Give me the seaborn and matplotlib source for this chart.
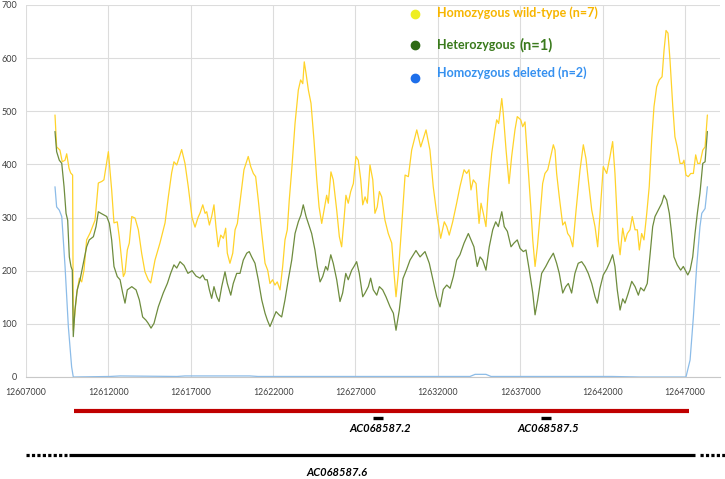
import numpy as np
import pandas as pd
import matplotlib
matplotlib.use("Agg")
import matplotlib.pyplot as plt
import matplotlib.transforms as mtransforms
import seaborn as sns

# ---------------- data ----------------
groups = ["Homozygous wild-type (n=7)", "Heterozygous (n=1)", "Homozygous deleted (n=2)"]

wt_pos = [12608760, 12608860, 12609060, 12609200, 12609370, 12609470, 12609610, 12609710, 12609830, 12609870,
          12610080, 12610240, 12610380, 12610520, 12610680, 12610890, 12611190, 12611390, 12611600, 12611730,
          12612000, 12612200, 12612340, 12612540, 12612660, 12612910, 12613010, 12613150, 12613270, 12613420,
          12613620, 12613820, 12614020, 12614220, 12614420, 12614570, 12614830, 12615130, 12615440, 12615640,
          12615840, 12615980, 12616150, 12616450, 12616650, 12616850, 12617080, 12617260, 12617440, 12617560,
          12617730, 12617870, 12617970, 12618130, 12618270, 12618410, 12618530, 12618670, 12618820, 12618980,
          12619120, 12619220, 12619380, 12619550, 12619690, 12619830, 12620030, 12620230, 12620490, 12620640,
          12620800, 12620940, 12621100, 12621310, 12621510, 12621670, 12621810, 12621970, 12622110, 12622250,
          12622420, 12622580, 12622720, 12622860, 12622980, 12623130, 12623330, 12623530, 12623670, 12623800,
          12623890, 12624000, 12624140, 12624300, 12624480, 12624650, 12624790, 12624950, 12625090, 12625250,
          12625350, 12625510, 12625650, 12625860, 12626020, 12626160, 12626300, 12626420, 12626560, 12626710,
          12626870, 12627030, 12627170, 12627320, 12627440, 12627580, 12627720, 12627880, 12628050, 12628180,
          12628320, 12628450, 12628590, 12628790, 12628990, 12629200, 12629340, 12629460, 12629600, 12629800,
          12630010, 12630210, 12630410, 12630720, 12630960, 12631280, 12631520, 12631720, 12631930, 12632170,
          12632390, 12632540, 12632690, 12632900, 12633140, 12633340, 12633590, 12633750, 12633890, 12634010,
          12634150, 12634320, 12634500, 12634620, 12634760, 12634920, 12635060, 12635270, 12635470, 12635570,
          12635690, 12635880, 12635970, 12636140, 12636320, 12636480, 12636680, 12636820, 12637030, 12637150,
          12637290, 12637430, 12637640, 12637760, 12637900, 12638040, 12638200, 12638360, 12638500, 12638670,
          12638850, 12639010, 12639110, 12639210, 12639370, 12639580, 12639720, 12639880, 12640020, 12640190,
          12640390, 12640630, 12640830, 12640990, 12641130, 12641340, 12641540, 12641700, 12641840, 12642040,
          12642250, 12642450, 12642610, 12642750, 12642950, 12643060, 12643220, 12643360, 12643500, 12643660,
          12643800, 12643970, 12644110, 12644230, 12644370, 12644510, 12644680, 12644830, 12644980, 12645120,
          12645280, 12645440, 12645610, 12645730, 12645850, 12645970, 12646090, 12646260, 12646390, 12646530,
          12646700, 12646860, 12646940, 12647060, 12647200, 12647350, 12647510, 12647650, 12647770, 12647910,
          12648080, 12648220, 12648360]
wt_cov = [493, 433, 427, 405, 408, 420, 393, 384, 380, 88,
          158, 186, 179, 201, 258, 271, 295, 365, 368, 371,
          424, 352, 290, 292, 264, 189, 196, 239, 252, 302,
          299, 277, 233, 198, 183, 177, 220, 252, 290, 339,
          384, 405, 399, 428, 402, 358, 300, 282, 300, 308,
          324, 308, 311, 286, 302, 324, 283, 245, 267, 261,
          280, 233, 214, 233, 277, 289, 339, 390, 415, 396,
          383, 377, 333, 270, 214, 201, 176, 183, 173, 179,
          164, 208, 258, 277, 333, 390, 477, 540, 559, 552,
          593, 571, 540, 515, 446, 371, 320, 289, 314, 342,
          327, 386, 371, 314, 264, 245, 295, 342, 327, 349,
          364, 415, 408, 371, 324, 339, 327, 399, 371, 308,
          320, 349, 339, 295, 270, 252, 195, 151, 195, 283,
          380, 377, 427, 465, 433, 465, 427, 358, 308, 261,
          292, 283, 267, 292, 327, 358, 390, 383, 390, 352,
          371, 364, 289, 327, 308, 283, 352, 421, 465, 484,
          477, 524, 496, 427, 364, 415, 465, 490, 484, 471,
          480, 415, 320, 258, 208, 245, 302, 364, 383, 390,
          415, 437, 427, 383, 339, 286, 292, 270, 264, 245,
          314, 390, 437, 411, 371, 314, 283, 245, 305, 396,
          383, 415, 443, 383, 258, 230, 280, 255, 270, 277,
          302, 277, 277, 239, 270, 258, 308, 358, 446, 509,
          546, 559, 565, 615, 652, 647, 597, 509, 452, 433,
          402, 402, 408, 380, 377, 383, 383, 418, 402, 402,
          427, 433, 493]

het_pos = [12608760, 12608860, 12609020, 12609170, 12609310, 12609430, 12609530, 12609630, 12609730, 12609810,
           12609870, 12609970, 12610110, 12610280, 12610480, 12610680, 12610840, 12611090, 12611250, 12611390,
           12611550, 12611730, 12611900, 12612060, 12612200, 12612340, 12612540, 12612710, 12612870, 12613010,
           12613150, 12613420, 12613680, 12613880, 12614080, 12614280, 12614420, 12614590, 12614770, 12615030,
           12615330, 12615580, 12615780, 12615980, 12616150, 12616350, 12616590, 12616830, 12617080, 12617320,
           12617560, 12617730, 12617870, 12618000, 12618130, 12618270, 12618410, 12618580, 12618720, 12618880,
           12619080, 12619220, 12619430, 12619580, 12619790, 12619990, 12620190, 12620400, 12620550, 12620700,
           12620900, 12621100, 12621310, 12621510, 12621650, 12621810, 12621970, 12622180, 12622360, 12622520,
           12622720, 12622920, 12623130, 12623330, 12623530, 12623690, 12623830, 12624000, 12624140, 12624340,
           12624540, 12624680, 12624850, 12625010, 12625190, 12625310, 12625500, 12625650, 12625860, 12626060,
           12626220, 12626410, 12626560, 12626770, 12626910, 12627070, 12627230, 12627440, 12627580, 12627780,
           12627920, 12628080, 12628290, 12628450, 12628650, 12628850, 12629100, 12629300, 12629460, 12629660,
           12629880, 12630110, 12630310, 12630670, 12630920, 12631220, 12631480, 12631720, 12631930, 12632130,
           12632330, 12632540, 12632740, 12632940, 12633140, 12633340, 12633590, 12633850, 12634010, 12634190,
           12634390, 12634560, 12634720, 12634920, 12635120, 12635330, 12635510, 12635670, 12635880, 12636030,
           12636220, 12636440, 12636620, 12636820, 12636990, 12637190, 12637350, 12637550, 12637760, 12637900,
           12638060, 12638300, 12638550, 12638750, 12639010, 12639210, 12639370, 12639580, 12639760, 12639920,
           12640120, 12640320, 12640520, 12640730, 12640930, 12641130, 12641340, 12641540, 12641680, 12641840,
           12642040, 12642250, 12642450, 12642610, 12642750, 12642890, 12643060, 12643220, 12643360, 12643560,
           12643770, 12643970, 12644170, 12644310, 12644510, 12644710, 12644880, 12645040, 12645180, 12645380,
           12645590, 12645730, 12645890, 12646050, 12646190, 12646330, 12646530, 12646740, 12646900, 12647020,
           12647170, 12647310, 12647470, 12647610, 12647750, 12647910, 12648080, 12648220, 12648360]
het_cov = [462, 424, 408, 402, 358, 308, 295, 226, 208, 201,
           76, 126, 164, 183, 214, 245, 258, 264, 283, 311,
           308, 305, 302, 289, 258, 208, 189, 183, 158, 139,
           164, 170, 164, 145, 113, 107, 101, 92, 101, 132,
           158, 176, 195, 211, 205, 217, 210, 195, 200, 190,
           186, 192, 183, 183, 164, 148, 170, 151, 142, 170,
           198, 176, 154, 176, 195, 195, 220, 233, 236, 226,
           214, 183, 145, 120, 107, 95, 107, 123, 117, 113,
           145, 183, 220, 270, 292, 305, 324, 302, 289, 270,
           239, 208, 179, 189, 208, 201, 230, 214, 183, 142,
           158, 195, 183, 201, 208, 217, 195, 151, 158, 170,
           186, 164, 154, 170, 164, 151, 132, 120, 88, 126,
           185, 203, 220, 238, 226, 236, 214, 180, 151, 132,
           165, 173, 167, 189, 220, 230, 252, 270, 258, 245,
           208, 226, 220, 201, 245, 277, 292, 283, 311, 283,
           274, 245, 252, 258, 242, 236, 239, 201, 158, 117,
           145, 195, 208, 220, 233, 214, 195, 158, 170, 176,
           158, 195, 214, 217, 208, 195, 176, 151, 139, 167,
           192, 203, 217, 230, 208, 164, 126, 147, 139, 158,
           180, 170, 154, 168, 162, 176, 230, 283, 302, 314,
           327, 342, 333, 308, 270, 226, 211, 201, 208, 201,
           192, 201, 226, 270, 308, 346, 402, 405, 462]

del_pos = [12608760, 12608860, 12609020, 12609170, 12609370, 12609570, 12609770, 12609870,
           12612100, 12612710, 12616170, 12616650, 12617080, 12620600, 12621080, 12623630,
           12633950, 12634260, 12634920, 12635230, 12642150, 12642570, 12644270,
           12647060, 12647310, 12647510, 12647710, 12647910, 12648020, 12648220, 12648360]
del_cov = [358, 320, 314, 302, 208, 95, 19, 0,
           1, 2, 1, 2, 2, 2, 1, 1,
           1, 5, 5, 1, 1, 1, 0,
           0, 32, 113, 208, 283, 308, 317, 358]

x_ticks = list(range(12607000, 12647001, 5000))
y_ticks = list(range(0, 701, 100))

# gene track annotations (genomic coordinates)
region_span = [12609900, 12647250]
small_genes = ["AC068587.2", "AC068587.5"]
small_gene_pos = [12628370, 12638570]
small_gene_half = 300
long_gene = "AC068587.6"
long_gene_span = [12609610, 12647620]
long_gene_left_dots = [12607000, 12609490]
long_gene_right_dots = [12647910, 12649430]
long_gene_label_pos = 12625880

# ---------------- styling ----------------
line_colors = ["#FFD32A", "#6E8C3E", "#8CBCE8"]
dot_colors = ["#EEEE22", "#2E6B14", "#1E6FEA"]
text_colors = ["#F7B500", "#3A7A1C", "#3590F0"]

sns.set_style("white")
plt.rcParams["font.family"] = ["Lato", "DejaVu Sans"]

fig = plt.figure(figsize=(7.25, 4.79), dpi=100)
ax = fig.add_axes([26 / 725, 102 / 479, 694 / 725, 372 / 479])

df = pd.concat([
    pd.DataFrame({"pos": wt_pos, "cov": wt_cov, "group": groups[0]}),
    pd.DataFrame({"pos": het_pos, "cov": het_cov, "group": groups[1]}),
    pd.DataFrame({"pos": del_pos, "cov": del_cov, "group": groups[2]}),
], ignore_index=True)

sns.lineplot(data=df, x="pos", y="cov", hue="group", hue_order=groups,
             palette=dict(zip(groups, line_colors)), estimator=None, sort=False,
             legend=False, linewidth=0.9, ax=ax)

ax.set_xlim(12607000, 12649126)
ax.set_ylim(0, 700)
ax.set_xticks(x_ticks)
ax.set_xticklabels([str(t) for t in x_ticks])
ax.set_yticks(y_ticks)
ax.set_xlabel("")
ax.set_ylabel("")
ax.grid(True, color="#DCDCDC", linewidth=0.8)
ax.set_axisbelow(True)
for s in ["top", "right", "left"]:
    ax.spines[s].set_visible(False)
ax.spines["bottom"].set_color("#C8C8C8")
ax.spines["bottom"].set_linewidth(0.8)
ax.tick_params(axis="x", length=3, width=0.8, color="#C8C8C8", labelsize=6.3, labelcolor="#404040", pad=5)
ax.tick_params(axis="y", length=0, labelsize=6.5, labelcolor="#404040", pad=6.3)

# ---------------- gene track below the axis ----------------
trans = mtransforms.blended_transform_factory(ax.transData, fig.transFigure)
ax.plot(region_span, [0.142, 0.142], color="#C00000", lw=3, solid_capstyle="butt",
        transform=trans, clip_on=False)
for name, p in zip(small_genes, small_gene_pos):
    ax.plot([p - small_gene_half, p + small_gene_half], [0.1273, 0.1273], color="black", lw=2.4,
            solid_capstyle="butt", transform=trans, clip_on=False)
    ax.text(p + 150, 0.1044, name, transform=trans, ha="center", va="center",
            fontsize=8, fontweight="bold", fontstyle="italic", color="black")
ax.plot(long_gene_span, [0.0501, 0.0501], color="black", lw=2.3, solid_capstyle="butt",
        transform=trans, clip_on=False)
for span in (long_gene_left_dots, long_gene_right_dots):
    ax.plot(span, [0.0501, 0.0501], color="black", lw=2.3, linestyle=(0, (1, 0.7)),
            dash_capstyle="butt", transform=trans, clip_on=False)
ax.text(long_gene_label_pos, 0.0146, long_gene, transform=trans, ha="center", va="center",
        fontsize=8, fontweight="bold", fontstyle="italic", color="black")

# ---------------- legend (custom, as in the reference) ----------------
dot_y = [1 - 14 / 479, 1 - 45 / 479, 1 - 78 / 479]
txt_y = [1 - 13 / 479, 1 - 45 / 479, 1 - 73 / 479]
for c, y in zip(dot_colors, dot_y):
    fig.add_artist(plt.Line2D([415 / 725], [y], marker="o", color=c, markersize=6,
                              linestyle="none", transform=fig.transFigure))
fig.text(437 / 725, txt_y[0], "Homozygous wild-type (n=7)", color=text_colors[0],
         fontsize=9, fontweight="bold", va="center", ha="left")
fig.text(437 / 725, txt_y[1], "Heterozygous", color=text_colors[1],
         fontsize=9, fontweight="bold", va="center", ha="left")
fig.text(519 / 725, txt_y[1], "(n=1)", color=text_colors[1],
         fontsize=10.5, fontweight="bold", va="center", ha="left")
fig.text(437 / 725, txt_y[2], "Homozygous deleted (n=2)", color=text_colors[2],
         fontsize=9, fontweight="bold", va="center", ha="left")

fig.savefig("out.png", dpi=100)
